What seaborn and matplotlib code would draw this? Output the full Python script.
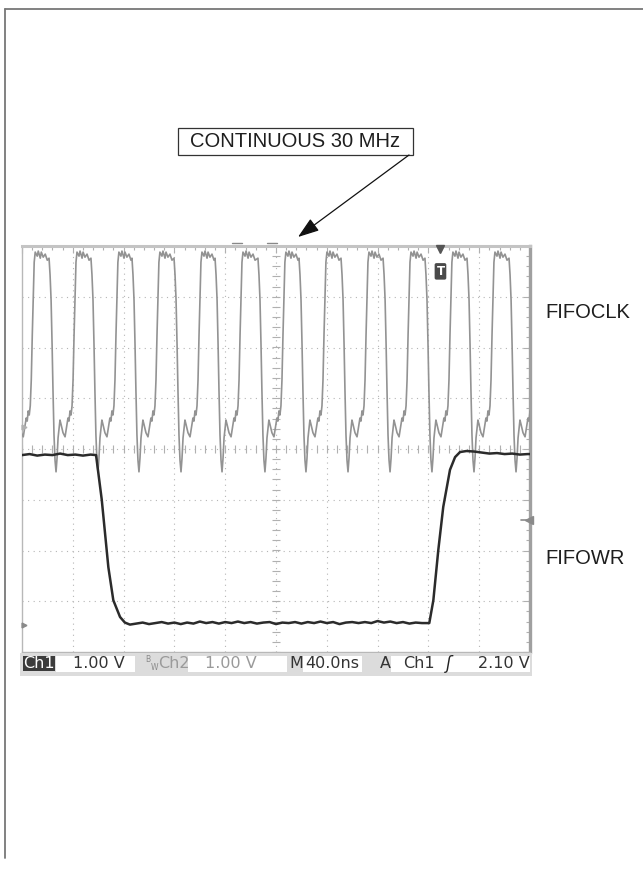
import numpy as np
import pandas as pd
import matplotlib
matplotlib.use("Agg")
import matplotlib.pyplot as plt
import seaborn as sns
from matplotlib.patches import Rectangle, FancyArrowPatch
from matplotlib.lines import Line2D
from matplotlib.ticker import MultipleLocator

# ---------------- data (time in ns, level in screen divisions) ----------------
# FIFOCLK: times of the negative dip of every clock cycle (ns)
CLK_DIP_NS = [-6.1, 26.8, 59.8, 92.1, 125.2, 157.5, 191.3, 223.6, 256.7,
              289.8, 322.8, 355.9, 389.0]
# FIFOCLK: shape of one cycle, relative to its dip
CLK_SHAPE_DT = [-5.5, -4.7, -3.9, -3.1, -2.4, -1.6, -0.8, 0.0,
                0.8, 1.6, 3.1, 3.9, 5.5, 7.1, 7.9, 9.4,
                10.2, 11.0, 11.8, 12.6, 13.4, 14.2, 15.0, 15.7,
                16.5, 18.1, 18.9, 20.5, 21.3, 22.8, 24.4, 26.0]
CLK_SHAPE_V = [3.76, 3.43, 2.94, 2.05, 1.16, 0.28, -0.22, -0.45,
               -0.18, 0.22, 0.57, 0.49, 0.32, 0.24, 0.37, 0.61,
               0.55, 0.75, 0.67, 0.85, 1.36, 2.25, 3.03, 3.68,
               3.88, 3.80, 3.90, 3.76, 3.88, 3.78, 3.84, 3.72]

# FIFOWR trace
WR_T = [0, 6, 12, 18, 24, 30, 36, 42, 48, 54, 58.3,
        62.8, 68.0, 71.9, 77.2, 81.0, 85.0,
        90, 95, 100, 105, 110, 115, 120, 125, 130, 135, 140, 145, 150, 155,
        160, 165, 170, 175, 180, 185, 190, 195, 200, 205, 210, 215, 220, 225,
        230, 235, 240, 245, 250, 255, 260, 265, 270, 275, 280, 285, 290, 295,
        300, 305, 310, 315,
        320.7, 323.9, 327.8, 331.7, 337.0, 341.0, 344.9,
        350, 356, 362, 368, 374, 380, 386, 392, 398, 400]
WR_V = [-0.12, -0.10, -0.13, -0.11, -0.12, -0.09, -0.12, -0.11, -0.13, -0.11, -0.12,
        -1.00, -2.33, -2.98, -3.31, -3.42, -3.46,
        -3.44, -3.42, -3.45, -3.43, -3.41, -3.44, -3.42, -3.45, -3.42, -3.44, -3.40, -3.43, -3.41, -3.44,
        -3.41, -3.43, -3.40, -3.43, -3.41, -3.44, -3.42, -3.41, -3.45, -3.42, -3.43, -3.41, -3.44, -3.41,
        -3.43, -3.40, -3.43, -3.41, -3.45, -3.42, -3.41, -3.43, -3.41, -3.43, -3.39, -3.42, -3.40, -3.43,
        -3.41, -3.44, -3.42, -3.43,
        -3.43, -2.98, -1.99, -1.14, -0.41, -0.16, -0.06,
        -0.04, -0.05, -0.07, -0.09, -0.08, -0.10, -0.09, -0.11, -0.10, -0.10]

TRIG_POS_NS = 329.5
TRIG_LEVEL_DIV = -1.40
GND_CH1_DIV = -3.47
GND_CH2_DIV = 0.43

STATUS = dict(ch1_scale="1.00 V", ch2_scale="1.00 V", timebase="40.0ns",
              trig_src="Ch1", trig_level="2.10 V")

# ---------------- build tables ----------------
clk_t, clk_v = [], []
for d in CLK_DIP_NS:
    for dt, v in zip(CLK_SHAPE_DT, CLK_SHAPE_V):
        clk_t.append(d + dt)
        clk_v.append(v)
clk = pd.DataFrame({"t": clk_t, "v": clk_v})
wr = pd.DataFrame({"t": WR_T, "v": WR_V})

# ---------------- figure ----------------
sns.set_style("white")
plt.rcParams["font.family"] = ["DejaVu Sans"]
W, H = 643, 873
fig = plt.figure(figsize=(W / 100, H / 100), dpi=100)
fig.patch.set_facecolor("white")

def fx(x):
    return x / W

def fy(y):
    return 1 - y / H

ax = fig.add_axes([fx(22), fy(652), 508 / W, 406 / H])
ax.set_xlim(0, 400)
ax.set_ylim(-4, 4)
ax.set_facecolor("white")

# graticule
grid_kw = dict(color="#b5b5b5", lw=0.8, ls=(0, (1, 4)), zorder=0)
for xg in range(40, 400, 40):
    ax.axvline(xg, **grid_kw)
for yg in range(-3, 4):
    ax.axhline(yg, **grid_kw)
ax.vlines(np.arange(0, 400.1, 8), -0.07, 0.07, color="#b0b0b0", lw=0.8, zorder=0)
ax.hlines(np.arange(-4, 4.01, 0.2), 200 - 2.8, 200 + 2.8, color="#b0b0b0", lw=0.8, zorder=0)

ax.xaxis.set_major_locator(MultipleLocator(40))
ax.xaxis.set_minor_locator(MultipleLocator(8))
ax.yaxis.set_major_locator(MultipleLocator(1))
ax.yaxis.set_minor_locator(MultipleLocator(0.2))
ax.tick_params(which="both", direction="in", top=True, right=True,
               labelbottom=False, labelleft=False, color="#b0b0b0", width=0.8)
ax.tick_params(which="major", length=5)
ax.tick_params(which="minor", length=3)
for s in ["left", "bottom"]:
    ax.spines[s].set_color("#b8b8b8")
    ax.spines[s].set_linewidth(1.0)
ax.spines["top"].set_color("#c4c4c4")
ax.spines["top"].set_linewidth(2.2)
ax.spines["right"].set_color("#a0a0a0")
ax.spines["right"].set_linewidth(2.4)

# traces
sns.lineplot(data=clk, x="t", y="v", ax=ax, color="#939393", lw=1.2,
             estimator=None, sort=False, zorder=3)
sns.lineplot(data=wr, x="t", y="v", ax=ax, color="#2b2b2b", lw=1.8,
             estimator=None, sort=False, zorder=4)
ax.set_xlabel("")
ax.set_ylabel("")

# scope markers
ax.plot([TRIG_POS_NS], [3.95], marker="v", ms=6, color="#555555", clip_on=False, zorder=6)
ax.text(TRIG_POS_NS, 3.5, "T", ha="center", va="center", color="white",
        fontsize=8.5, fontweight="bold", zorder=7,
        bbox=dict(boxstyle="round,pad=0.15", fc="#4a4a4a", ec="none"))
ax.plot([399.5], [TRIG_LEVEL_DIV], marker="<", ms=6, color="#8a8a8a", clip_on=False, zorder=6)
ax.plot([393, 400], [TRIG_LEVEL_DIV] * 2, color="#8a8a8a", lw=1.2, zorder=6)
ax.plot([1.2], [GND_CH1_DIV], marker=">", ms=3.5, color="#8a8a8a", clip_on=False, zorder=6)
ax.plot([1.2], [GND_CH2_DIV], marker=">", ms=3.5, color="#b0b0b0", clip_on=False, zorder=6)

# small marks above the screen
for x0, x1 in [(232, 242), (267, 277)]:
    fig.add_artist(Line2D([fx(x0), fx(x1)], [fy(243), fy(243)], color="#888888", lw=1.0))

# status bar
fig.add_artist(Rectangle((fx(20), fy(676)), 512 / W, 23 / H, transform=fig.transFigure,
                         fc="#dcdcdc", ec="none", zorder=1))
for x0, x1 in [(56, 135), (188, 287), (303, 362), (391, 530)]:
    fig.add_artist(Rectangle((fx(x0), fy(672)), (x1 - x0) / W, 16 / H,
                             transform=fig.transFigure, fc="white", ec="none", zorder=2))
fig.add_artist(Rectangle((fx(23), fy(671)), 32 / W, 15 / H, transform=fig.transFigure,
                         fc="#3c3c3c", ec="none", zorder=2))
st = dict(fontsize=11.5, va="center", zorder=3)
yc = fy(664)
fig.text(fx(39), yc, "Ch1", ha="center", color="white", **st)
fig.text(fx(73), yc, STATUS["ch1_scale"], ha="left", color="#333333", **st)
fig.text(fx(145), fy(659.5), "B", ha="left", color="#8a8a8a", fontsize=5.5, va="center", zorder=3)
fig.text(fx(150.5), fy(667.5), "W", ha="left", color="#8a8a8a", fontsize=5.5, va="center", zorder=3)
fig.text(fx(158), yc, "Ch2", ha="left", color="#9a9a9a", **st)
fig.text(fx(205), yc, STATUS["ch2_scale"], ha="left", color="#9a9a9a", **st)
fig.text(fx(289), yc, "M", ha="left", color="#333333", **st)
fig.text(fx(305), yc, STATUS["timebase"], ha="left", color="#333333", **st)
fig.text(fx(380), yc, "A", ha="left", color="#333333", **st)
fig.text(fx(403), yc, STATUS["trig_src"], ha="left", color="#333333", **st)
fig.text(fx(449), yc, "ʃ", ha="center", color="#222222", fontsize=12, fontstyle="italic",
         va="center", zorder=3)
fig.text(fx(530), yc, STATUS["trig_level"], ha="right", color="#333333", **st)

# page frame
fig.add_artist(Line2D([fx(4.5), fx(4.5)], [fy(8.5), fy(858)], color="#777777", lw=1.3))
fig.add_artist(Line2D([fx(4.5), 1.0], [fy(8.5), fy(8.5)], color="#777777", lw=1.3))

# annotation box and arrow
fig.add_artist(Rectangle((fx(178), fy(155)), (413 - 178) / W, 27 / H,
                         transform=fig.transFigure, fc="white", ec="#333333", lw=0.9))
lab = dict(family=["Liberation Sans", "DejaVu Sans"], color="#1e1e1e")
fig.text(fx(295.5), fy(141.5), "CONTINUOUS 30 MHz", ha="center", va="center",
         fontsize=14.5, **lab)
fig.add_artist(FancyArrowPatch(posA=(fx(409), fy(155)), posB=(fx(298), fy(237)),
                               transform=fig.transFigure,
                               arrowstyle="-|>,head_length=1.3,head_width=0.45",
                               mutation_scale=10, color="#111111", lw=0.9,
                               shrinkA=0, shrinkB=0))

fig.text(fx(545), fy(313), "FIFOCLK", ha="left", va="center", fontsize=14.5, **lab)
fig.text(fx(545), fy(558), "FIFOWR", ha="left", va="center", fontsize=14.5, **lab)

fig.savefig("out.png", dpi=100, facecolor="white")
